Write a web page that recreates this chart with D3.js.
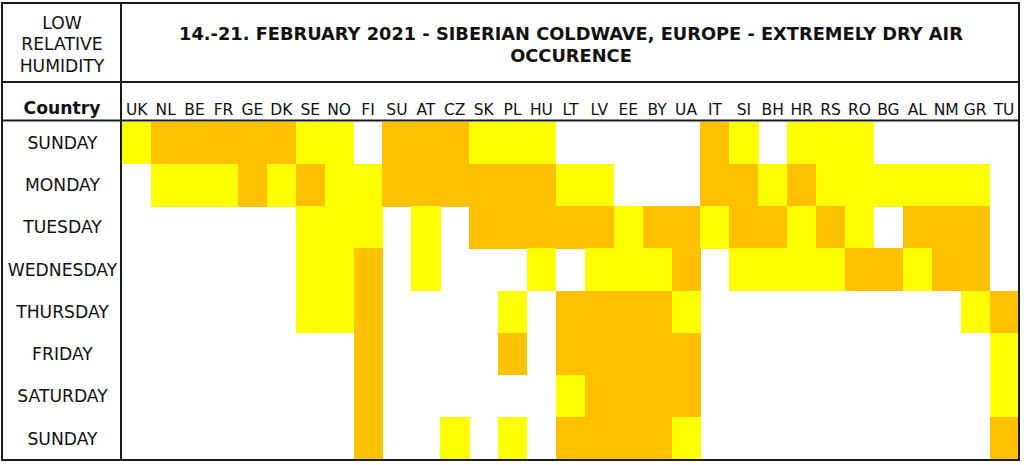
<!DOCTYPE html>
<html>
<head>
<meta charset="utf-8">
<script src="https://cdn.jsdelivr.net/npm/d3@7"></script>
<style>
  html, body { margin: 0; padding: 0; background: #fff; }
  svg { display: block; }
  text { font-family: "DejaVu Sans", Verdana, sans-serif; fill: #111; }
</style>
</head>
<body>
<svg id="chart" width="1024" height="465"></svg>
<script>
// ---- Data ----
const countries = ["UK","NL","BE","FR","GE","DK","SE","NO","FI","SU","AT","CZ","SK","PL","HU","LT","LV","EE","BY","UA","IT","SI","BH","HR","RS","RO","BG","AL","NM","GR","TU"];
const days = ["SUNDAY","MONDAY","TUESDAY","WEDNESDAY","THURSDAY","FRIDAY","SATURDAY","SUNDAY"];
const titleLines = ["14.-21. FEBRUARY 2021 - SIBERIAN COLDWAVE, EUROPE - EXTREMELY DRY AIR", "OCCURENCE"];
const cornerLines = ["LOW", "RELATIVE", "HUMIDITY"];
const headerLabel = "Country";
// 0 = none, 1 = low humidity (yellow), 2 = extremely low (orange)
const sun14 = [1,2,2,2,2,2,1,1,0,2,2,2,1,1,1,0,0,0,0,0,2,1,0,1,1,1,0,0,0,0,0];
const mon15 = [0,1,1,1,2,1,2,1,1,2,2,2,2,2,2,1,1,0,0,0,2,2,1,2,1,1,1,1,1,1,0];
const tue16 = [0,0,0,0,0,0,1,1,1,0,1,0,2,2,2,2,2,1,2,2,1,2,2,1,2,1,0,2,2,2,0];
const wed17 = [0,0,0,0,0,0,1,1,2,0,1,0,0,0,1,0,1,1,1,2,0,1,1,1,1,2,2,1,2,2,0];
const thu18 = [0,0,0,0,0,0,1,1,2,0,0,0,0,1,0,2,2,2,2,1,0,0,0,0,0,0,0,0,0,1,2];
const fri19 = [0,0,0,0,0,0,0,0,2,0,0,0,0,2,0,2,2,2,2,2,0,0,0,0,0,0,0,0,0,0,1];
const sat20 = [0,0,0,0,0,0,0,0,2,0,0,0,0,0,0,1,2,2,2,2,0,0,0,0,0,0,0,0,0,0,1];
const sun21 = [0,0,0,0,0,0,0,0,2,0,0,1,0,1,0,2,2,2,2,1,0,0,0,0,0,0,0,0,0,0,2];
const levels = [sun14, mon15, tue16, wed17, thu18, fri19, sat20, sun21];

// ---- Layout ----
const svg = d3.select("#chart");
const L = 2, R = 1019, T = 3, B = 460;
const divX = 121, titleY = 82, headY = 120.5;
const gridX0 = 122.3, gridX1 = 1018.5, gridY0 = 121.7, gridY1 = 459.5;

const x = d3.scaleBand().domain(countries).range([gridX0, gridX1]).padding(0);
const y = d3.scaleBand().domain(d3.range(days.length)).range([gridY0, gridY1]).padding(0);
const color = d3.scaleOrdinal().domain([1, 2]).range(["#FFFF00", "#FFC000"]);

svg.append("rect").attr("width", 1024).attr("height", 465).attr("fill", "#fff");

// cells
const cells = [];
levels.forEach((row, r) => row.forEach((v, c) => { if (v > 0) cells.push({ r, c: countries[c], v }); }));
svg.append("g").selectAll("rect").data(cells).join("rect")
  .attr("x", d => x(d.c))
  .attr("y", d => y(d.r))
  .attr("width", x.bandwidth() + 0.4)
  .attr("height", y.bandwidth() + 0.4)
  .attr("fill", d => color(d.v))
  .attr("shape-rendering", "crispEdges");

// column labels
svg.append("g").selectAll("text").data(countries).join("text")
  .attr("x", d => x(d) + x.bandwidth() / 2)
  .attr("y", 114.5)
  .attr("text-anchor", "middle")
  .style("font-size", "15.5px")
  .text(d => d);

// row labels
svg.append("g").selectAll("text").data(days).join("text")
  .attr("x", (L + divX) / 2 + 1)
  .attr("y", (d, i) => y(i) + y.bandwidth() / 2)
  .attr("dy", "0.36em")
  .attr("text-anchor", "middle")
  .style("font-size", "17.2px")
  .text(d => d);

// corner
svg.append("g").selectAll("text").data(cornerLines).join("text")
  .attr("x", (L + divX) / 2 + 0.5)
  .attr("y", (d, i) => 22.5 + i * 21.6)
  .attr("dy", "0.36em")
  .attr("text-anchor", "middle")
  .style("font-size", "17.2px")
  .text(d => d);

svg.append("text")
  .attr("x", (L + divX) / 2 + 0.5)
  .attr("y", 107.6)
  .attr("dy", "0.36em")
  .attr("text-anchor", "middle")
  .style("font-size", "17.2px")
  .style("font-weight", "bold")
  .text(headerLabel);

// title
svg.append("g").selectAll("text").data(titleLines).join("text")
  .attr("x", (divX + R) / 2 + 1)
  .attr("y", (d, i) => 33.5 + i * 21.8)
  .attr("dy", "0.36em")
  .attr("text-anchor", "middle")
  .style("font-size", "17.8px")
  .style("font-weight", "bold")
  .text(d => d);

// borders
const lines = svg.append("g").attr("stroke", "#1a1a1a").attr("stroke-width", 2).attr("fill", "none");
lines.append("rect").attr("x", L).attr("y", T).attr("width", R - L).attr("height", B - T);
lines.append("line").attr("x1", divX).attr("x2", divX).attr("y1", T).attr("y2", B);
lines.append("line").attr("x1", L).attr("x2", R).attr("y1", titleY).attr("y2", titleY);
lines.append("line").attr("x1", L).attr("x2", R).attr("y1", headY).attr("y2", headY);
</script>
</body>
</html>
